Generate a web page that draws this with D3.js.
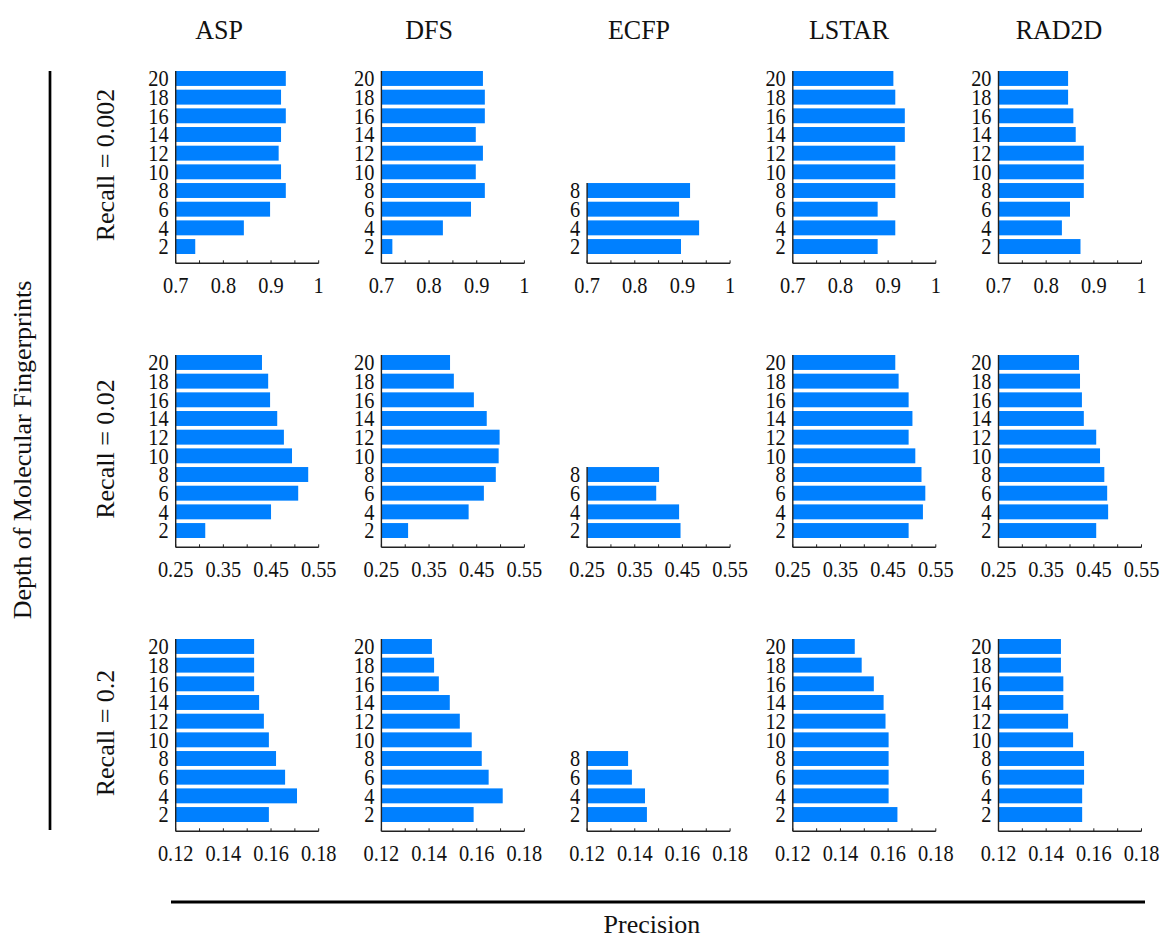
<!DOCTYPE html>
<html>
<head>
<meta charset="utf-8">
<script src="https://cdn.jsdelivr.net/npm/d3@7"></script>
<style>
  html, body { margin: 0; padding: 0; background: #fff; }
  svg text { font-family: "Liberation Serif", "Times New Roman", Times, "DejaVu Serif", serif; fill: #111; }
</style>
</head>
<body>
<svg id="chart" width="1161" height="939" font-family="Liberation Serif, Times New Roman, serif"></svg>
<script>
// Fingerprint methods (columns) and recall levels (rows)
const methods = ["ASP", "DFS", "ECFP", "LSTAR", "RAD2D"];
const recallLabels = ["Recall = 0.002", "Recall = 0.02", "Recall = 0.2"];
const depths = [2, 4, 6, 8, 10, 12, 14, 16, 18, 20];
const ecfpDepths = [2, 4, 6, 8];

// Precision axis domain and ticks for each recall level
const xDomains = [[0.7, 1.0], [0.25, 0.55], [0.12, 0.18]];
const xTickStep = [0.05, 0.05, 0.01];
const xTickLabels = [
  ["0.7", "0.8", "0.9", "1"],
  ["0.25", "0.35", "0.45", "0.55"],
  ["0.12", "0.14", "0.16", "0.18"]
];

// Precision by depth (2..20), one array per recall level
const aspValues = [
  [0.741, 0.843, 0.898, 0.931, 0.921, 0.916, 0.921, 0.931, 0.921, 0.931],
  [0.312, 0.450, 0.507, 0.528, 0.494, 0.477, 0.463, 0.448, 0.444, 0.431],
  [0.1591, 0.1709, 0.1659, 0.1621, 0.1591, 0.1570, 0.1550, 0.1529, 0.1529, 0.1529]
];
const dfsValues = [
  [0.723, 0.829, 0.888, 0.917, 0.898, 0.913, 0.898, 0.917, 0.917, 0.913],
  [0.306, 0.433, 0.465, 0.490, 0.496, 0.498, 0.471, 0.444, 0.402, 0.394],
  [0.1587, 0.1709, 0.1650, 0.1621, 0.1579, 0.1529, 0.1487, 0.1441, 0.1421, 0.1412]
];
const ecfpValues = [
  [0.897, 0.935, 0.893, 0.916],
  [0.446, 0.443, 0.395, 0.401],
  [0.1451, 0.1443, 0.1388, 0.1372]
];
const lstarValues = [
  [0.878, 0.915, 0.878, 0.915, 0.915, 0.915, 0.935, 0.935, 0.915, 0.911],
  [0.493, 0.523, 0.528, 0.520, 0.507, 0.493, 0.501, 0.493, 0.472, 0.465],
  [0.1639, 0.1602, 0.1602, 0.1602, 0.1602, 0.1589, 0.1581, 0.1540, 0.1489, 0.1460]
];
const rad2dValues = [
  [0.872, 0.833, 0.850, 0.879, 0.879, 0.879, 0.862, 0.857, 0.846, 0.846],
  [0.455, 0.480, 0.478, 0.472, 0.463, 0.455, 0.429, 0.425, 0.421, 0.419],
  [0.1551, 0.1551, 0.1559, 0.1559, 0.1513, 0.1492, 0.1472, 0.1472, 0.1462, 0.1462]
];

const seriesByMethod = {
  ASP: { depths: depths, values: aspValues },
  DFS: { depths: depths, values: dfsValues },
  ECFP: { depths: ecfpDepths, values: ecfpValues },
  LSTAR: { depths: depths, values: lstarValues },
  RAD2D: { depths: depths, values: rad2dValues }
};

// Grid geometry
const colX0 = 175.7, colStep = 205.7, plotW = 143;
const rowY0 = 71, rowStep = 284, barsH = 183, axisGap = 9.3;
const barColor = "#0080ff";
const axisColor = "#222";
// tick labels are drawn slightly taller than wide
const tickStretch = "scale(0.97,1.12)";

const svg = d3.select("#chart");

methods.forEach((m, ci) => {
  const x0 = colX0 + ci * colStep;
  // column title
  svg.append("text")
    .attr("transform", `translate(${219 + ci * 210},39) scale(1,1.06)`)
    .attr("text-anchor", "middle")
    .attr("font-size", 26)
    .text(m);

  recallLabels.forEach((r, ri) => {
    const top = rowY0 + ri * rowStep;
    const axisY = top + barsH + axisGap;
    const s = seriesByMethod[m];
    const data = s.depths.map((d, i) => ({ depth: d, value: s.values[ri][i] }));

    const x = d3.scaleLinear().domain(xDomains[ri]).range([x0, x0 + plotW]);
    const y = d3.scaleBand()
      .domain(depths.slice().reverse())
      .range([top, top + barsH])
      .paddingInner(0.2)
      .paddingOuter(0);

    const g = svg.append("g");

    // bars
    g.selectAll("rect")
      .data(data)
      .join("rect")
      .attr("x", x(xDomains[ri][0]))
      .attr("y", d => y(d.depth))
      .attr("width", d => x(d.value) - x(xDomains[ri][0]))
      .attr("height", y.bandwidth())
      .attr("fill", barColor);

    // vertical axis line spanning present categories
    const maxDepth = d3.max(s.depths);
    g.append("line")
      .attr("x1", x0).attr("x2", x0)
      .attr("y1", y(maxDepth)).attr("y2", axisY)
      .attr("stroke", axisColor).attr("stroke-width", 1.4);

    // depth labels
    g.selectAll("text.ylab")
      .data(s.depths)
      .join("text")
      .attr("class", "ylab")
      .attr("transform", d => `translate(${x0 - 7},${y(d) + y.bandwidth() / 2 + 7.8}) ${tickStretch}`)
      .attr("text-anchor", "end")
      .attr("font-size", 21)
      .text(d => d);

    // precision axis: baseline, inward ticks, labels
    g.append("line")
      .attr("x1", x0).attr("x2", x0 + plotW)
      .attr("y1", axisY).attr("y2", axisY)
      .attr("stroke", axisColor).attr("stroke-width", 1.4);

    const [lo, hi] = xDomains[ri];
    const nT = Math.round((hi - lo) / xTickStep[ri]);
    const ticks = d3.range(nT + 1).map(k => lo + k * xTickStep[ri]);
    g.selectAll("line.tick")
      .data(ticks)
      .join("line")
      .attr("class", "tick")
      .attr("x1", d => x(d)).attr("x2", d => x(d))
      .attr("y1", axisY).attr("y2", axisY - 3)
      .attr("stroke", axisColor).attr("stroke-width", 1);

    const labelVals = ticks.filter((d, k) => k % 2 === 0);
    g.selectAll("text.xlab")
      .data(labelVals)
      .join("text")
      .attr("class", "xlab")
      .attr("transform", d => `translate(${x(d)},${axisY + 30}) ${tickStretch}`)
      .attr("text-anchor", "middle")
      .attr("font-size", 21)
      .text((d, k) => xTickLabels[ri][k]);
  });
});

// row labels
recallLabels.forEach((r, ri) => {
  const cy = rowY0 + ri * rowStep + 94;
  svg.append("text")
    .attr("transform", `translate(114,${cy}) rotate(-90)`)
    .attr("text-anchor", "middle")
    .attr("font-size", 26)
    .text(r);
});

// outer axis titles and rules
svg.append("line")
  .attr("x1", 50).attr("x2", 50).attr("y1", 71).attr("y2", 830)
  .attr("stroke", "#000").attr("stroke-width", 2.7);
svg.append("text")
  .attr("transform", "translate(31,450) rotate(-90)")
  .attr("text-anchor", "middle")
  .attr("font-size", 26)
  .text("Depth of Molecular Fingerprints");

svg.append("line")
  .attr("x1", 171).attr("x2", 1145).attr("y1", 902).attr("y2", 902)
  .attr("stroke", "#000").attr("stroke-width", 3);
svg.append("text")
  .attr("x", 652).attr("y", 933)
  .attr("text-anchor", "middle")
  .attr("font-size", 26)
  .text("Precision");
</script>
</body>
</html>
